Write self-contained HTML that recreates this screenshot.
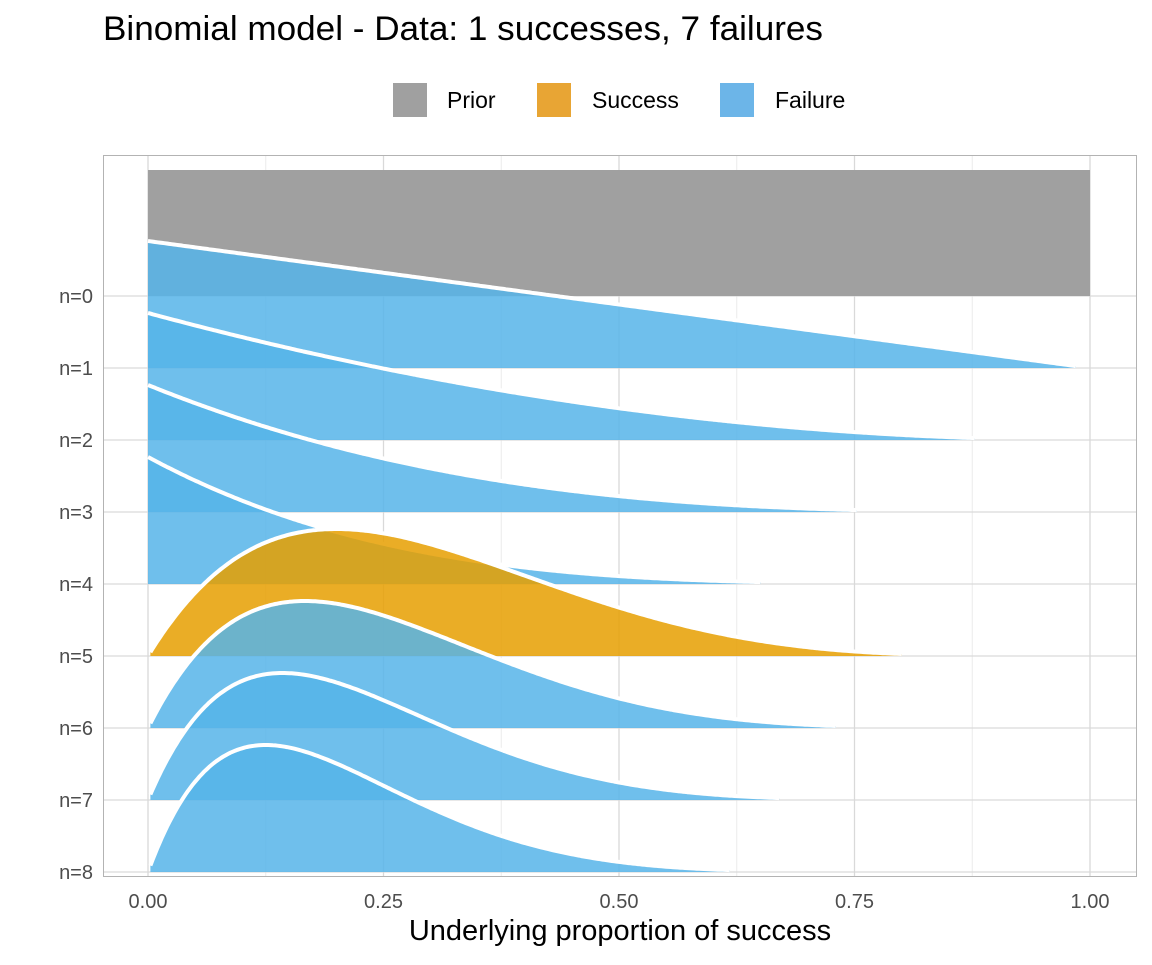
<!DOCTYPE html>
<html><head><meta charset="utf-8"><style>
body{margin:0;background:#fff;font-family:"Liberation Sans",Arial,sans-serif;}
svg text{font-family:"Liberation Sans",Arial,sans-serif;}
</style></head><body>
<svg id="chart" width="1152" height="960" viewBox="0 0 1152 960" xmlns="http://www.w3.org/2000/svg">
<rect width="1152" height="960" fill="#fff"/>
<text x="103" y="40" font-size="34" textLength="720" lengthAdjust="spacingAndGlyphs" fill="#000">Binomial model - Data: 1 successes, 7 failures</text>
<g>
 <rect x="393" y="83" width="34" height="34" fill="#a0a0a0"/>
 <text x="447" y="108" font-size="23">Prior</text>
 <rect x="537" y="83" width="34" height="34" fill="#e8a534"/>
 <text x="592" y="108" font-size="23">Success</text>
 <rect x="720" y="83" width="34" height="34" fill="#6cb5e8"/>
 <text x="775" y="108" font-size="23">Failure</text>
</g>
<g id="grid"></g>
<g id="ridges"></g>
<rect x="103.5" y="155.5" width="1033" height="721" fill="none" stroke="#b3b3b3" stroke-width="1"/>
<g id="axes"></g>
<text x="620" y="940" font-size="29" text-anchor="middle">Underlying proportion of success</text>
</svg>
<script>
const outcomes = ['prior','F','F','F','F','S','F','F','F'];
const rowLabels = ['n=0','n=1','n=2','n=3','n=4','n=5','n=6','n=7','n=8'];
const xTicks = [0,0.25,0.5,0.75,1];
const xTickLabels = ['0.00','0.25','0.50','0.75','1.00'];
const minorTicks = [0.125,0.375,0.625,0.875];

const NS='http://www.w3.org/2000/svg';
const sx = v => 148 + v*942;
const base = i => 296 + i*72;
const H = 127;
function mk(tag, attrs, parent){const e=document.createElementNS(NS,tag);for(const k in attrs)e.setAttribute(k,attrs[k]);parent.appendChild(e);return e;}
const grid=document.getElementById('grid'), ridges=document.getElementById('ridges'), axes=document.getElementById('axes');
minorTicks.forEach(t=>{const l=mk('line',{x1:sx(t),x2:sx(t),y1:156,y2:876,stroke:'#ececec','stroke-width':1},grid);
});
xTicks.forEach((t,i)=>{const l=mk('line',{x1:sx(t),x2:sx(t),y1:156,y2:876,stroke:'#d9d9d9','stroke-width':1.3},grid);

const tx=mk('text',{x:sx(t),y:908,'font-size':20,fill:'#4d4d4d','text-anchor':'middle'},axes);tx.textContent=xTickLabels[i];
});
rowLabels.forEach((lab,i)=>{const l=mk('line',{x1:104,x2:1136,y1:base(i),y2:base(i),stroke:'#d9d9d9','stroke-width':1.3},grid);

const tx=mk('text',{x:93,y:base(i)+7,'font-size':20,fill:'#4d4d4d','text-anchor':'end'},axes);tx.textContent=lab;
});

let a=1,b=1;
outcomes.forEach((o,i)=>{
  if(o==='S')a++; else if(o==='F')b++;
  const y0=base(i);
  if(o==='prior'){
    const r=mk('rect',{x:sx(0),y:y0-H+1,width:sx(1)-sx(0),height:H-1,fill:'#a0a0a0'},ridges);
    return;
  }
  const f=x=>Math.pow(x,a-1)*Math.pow(1-x,b-1);
  const N=400;let mx=0;const vals=[];
  for(let k=0;k<=N;k++){const v=f(k/N);vals.push(v);if(v>mx)mx=v;}
  let lo=0,hi=N;
  while(lo<N&&vals[lo]/mx<0.015&&a>1)lo++;
  while(hi>0&&vals[hi]/mx<0.015)hi--;
  if(b===1)hi=N;
  let line='';
  for(let k=lo;k<=hi;k++){line+=(k===lo?'M':'L')+sx(k/N).toFixed(1)+','+(y0-vals[k]/mx*H).toFixed(1);}
  const fillD=line+'L'+sx(hi/N).toFixed(1)+','+y0+'L'+sx(lo/N).toFixed(1)+','+y0+'Z';
  const col=o==='S'?'#E69F00':'#56B4E9';
  const p=mk('path',{d:fillD,fill:col,'fill-opacity':0.85},ridges);
  
  const l=mk('path',{d:line,fill:'none',stroke:'#fff','stroke-width':4,'stroke-linejoin':'round'},ridges);
  
});
</script>
</body></html>
